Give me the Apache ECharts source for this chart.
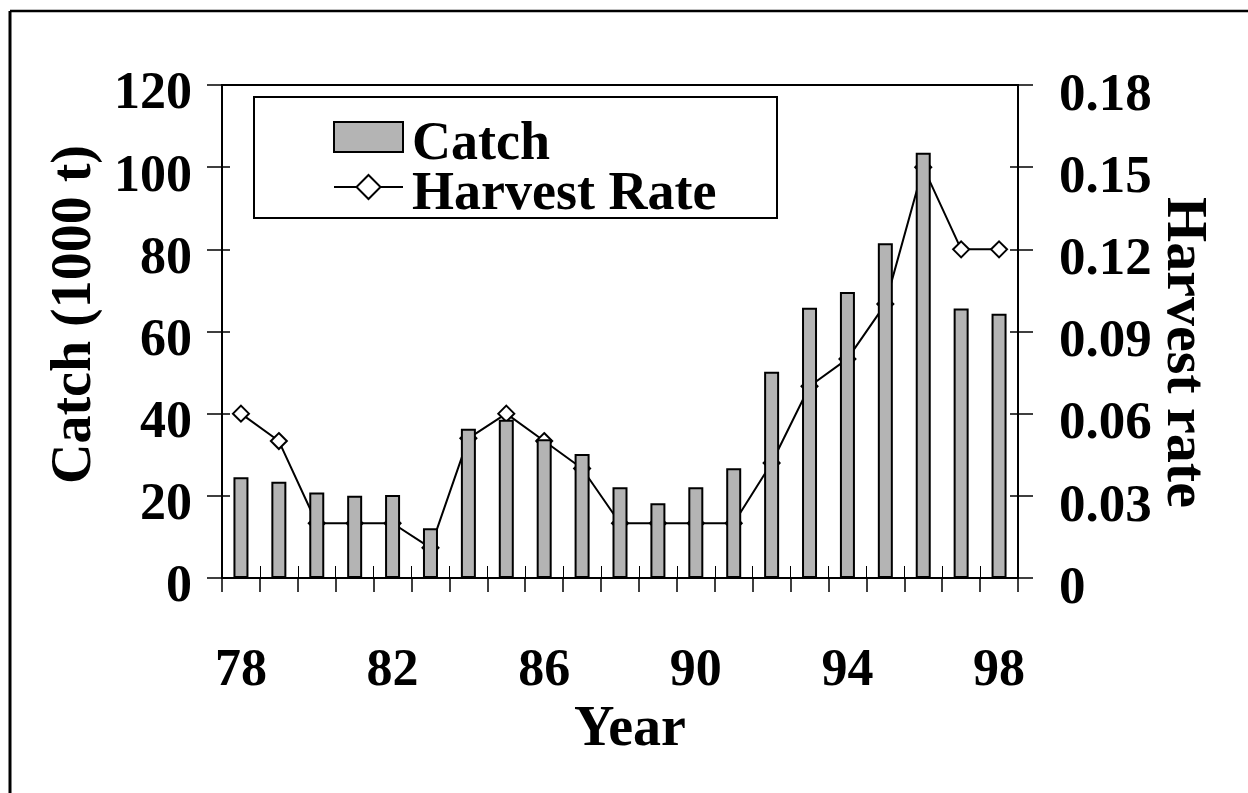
<!DOCTYPE html>
<html>
<head>
<meta charset="utf-8">
<script src="https://cdn.jsdelivr.net/npm/echarts@6/dist/echarts.min.js"></script>
<style>
  html, body { margin: 0; padding: 0; background: #fff; }
  #chart { width: 1248px; height: 793px; }
</style>
</head>
<body>
<div id="chart"></div>
<script>
// ---- data ----
const years = ['78','79','80','81','82','83','84','85','86','87','88','89','90','91','92','93','94','95','96','97','98'];
const catchValues = [24.5, 23.4, 20.8, 20.0, 20.2, 12.1, 36.3, 38.5, 33.8, 30.2, 22.1, 18.2, 22.1, 26.7, 50.2, 65.8, 69.6, 81.5, 103.5, 65.6, 64.3];
const harvestRate = [0.06, 0.05, 0.02, 0.02, 0.02, 0.011, 0.051, 0.06, 0.05, 0.04, 0.02, 0.02, 0.02, 0.02, 0.042, 0.07, 0.08, 0.10, 0.15, 0.12, 0.12];
const leftTicks = [0, 20, 40, 60, 80, 100, 120];
const rightTickLabels = ['0', '0.03', '0.06', '0.09', '0.12', '0.15', '0.18'];
const seriesNames = ['Catch', 'Harvest Rate'];
const axisNames = { x: 'Year', left: 'Catch (1000 t)', right: 'Harvest rate' };

const FONT = 'Liberation Serif, Times New Roman, serif';
const txt = { fontFamily: FONT, fontWeight: 'bold', fontSize: 52, color: '#000' };
const nameTxt = { fontFamily: FONT, fontWeight: 'bold', fontSize: 56, color: '#000' };
const lineBlack = { color: '#000', width: 2 };

const leftMin = leftTicks[0], leftMax = leftTicks[leftTicks.length - 1], leftStep = leftTicks[1] - leftTicks[0];
const rightMax = parseFloat(rightTickLabels[rightTickLabels.length - 1]);
const rightStep = parseFloat(rightTickLabels[1]);

const chart = echarts.init(document.getElementById('chart'), null, { renderer: 'canvas' });
chart.setOption({
  backgroundColor: '#ffffff',
  animation: false,
  grid: {
    left: 222, right: 230, top: 85, bottom: 215,
    show: true, borderColor: '#000', borderWidth: 2, backgroundColor: 'transparent'
  },
  legend: {
    orient: 'vertical',
    left: 333, top: 102,
    padding: 0,
    itemGap: -20,
    itemWidth: 69, itemHeight: 30,
    data: [{ name: seriesNames[0], icon: 'rect' }, { name: seriesNames[1] }],
    formatter: function (name) { return '{t|' + name + '}'; },
    textStyle: Object.assign({}, txt, {
      fontSize: 54,
      rich: { t: { fontFamily: FONT, fontWeight: 'bold', fontSize: 54, color: '#000', lineHeight: 36, padding: [16, 0, 0, 4] } }
    })
  },
  graphic: [
    { type: 'rect', shape: { x: 254, y: 97, width: 523, height: 121 },
      style: { fill: 'none', stroke: '#000', lineWidth: 2 }, z: 1 },
    { type: 'line', shape: { x1: 10, y1: 11, x2: 1248, y2: 11 }, style: { stroke: '#000', lineWidth: 2.5 } },
    { type: 'line', shape: { x1: 10, y1: 11, x2: 10, y2: 793 }, style: { stroke: '#000', lineWidth: 3 } }
  ],
  xAxis: [{
    type: 'category',
    data: years,
    boundaryGap: true,
    position: 'bottom',
    axisLine: { show: true, lineStyle: lineBlack },
    axisTick: { show: true, interval: 0, length: 14, lineStyle: { color: '#000', width: 1.5 } },
    axisLabel: Object.assign({}, txt, { interval: 3, margin: 68 }),
    splitLine: { show: false },
    name: axisNames.x,
    nameLocation: 'middle',
    nameGap: 125,
    nameTextStyle: Object.assign({}, nameTxt, { padding: [0, 0, 0, 20] })
  }, {
    type: 'category',
    data: years,
    position: 'bottom',
    axisLine: { show: false },
    axisTick: { show: true, inside: true, interval: 0, length: 12, lineStyle: { color: '#000', width: 1 } },
    axisLabel: { show: false },
    splitLine: { show: false }
  }],
  yAxis: [{
    type: 'value',
    position: 'left',
    min: leftMin, max: leftMax, interval: leftStep,
    axisLine: { show: true, lineStyle: lineBlack },
    axisTick: { show: true, length: 15, lineStyle: { color: '#000', width: 1.5 } },
    axisLabel: Object.assign({}, txt, { margin: 30, verticalAlign: 'top', lineHeight: 20 }),
    splitLine: { show: false },
    name: axisNames.left,
    nameLocation: 'middle',
    nameRotate: 90,
    nameGap: 113,
    nameTextStyle: Object.assign({}, nameTxt, { padding: [0, 0, 0, 34] })
  }, {
    type: 'value',
    position: 'right',
    min: 0, max: rightMax, interval: rightStep,
    axisLine: { show: true, lineStyle: lineBlack },
    axisTick: { show: true, length: 15, lineStyle: { color: '#000', width: 1.5 } },
    axisLabel: Object.assign({}, txt, {
      fontSize: 53, margin: 41, verticalAlign: 'top', lineHeight: 22,
      formatter: function (v) { return rightTickLabels[Math.round(v / rightStep)]; }
    }),
    splitLine: { show: false },
    name: axisNames.right,
    nameLocation: 'middle',
    nameRotate: -90,
    nameGap: 136,
    nameMoveOverlap: false,
    nameTextStyle: Object.assign({}, nameTxt, { fontSize: 58, padding: [0, 0, 0, 42] })
  }, {
    type: 'value',
    position: 'left',
    min: leftMin, max: leftMax, interval: leftStep,
    axisLine: { show: false },
    axisTick: { show: true, inside: true, length: 8, lineStyle: { color: '#000', width: 1.5 } },
    axisLabel: { show: false },
    splitLine: { show: false }
  }, {
    type: 'value',
    position: 'right',
    min: 0, max: rightMax, interval: rightStep,
    axisLine: { show: false },
    axisTick: { show: true, inside: true, length: 8, lineStyle: { color: '#000', width: 1.5 } },
    axisLabel: { show: false },
    splitLine: { show: false }
  }],
  series: [{
    name: seriesNames[1],
    type: 'line',
    xAxisIndex: 0,
    yAxisIndex: 1,
    data: harvestRate,
    z: 2,
    symbol: 'diamond',
    symbolSize: 16,
    showAllSymbol: true,
    lineStyle: { color: '#000', width: 2 },
    itemStyle: { color: '#fff', borderColor: '#000', borderWidth: 2 }
  }, {
    name: seriesNames[0],
    type: 'bar',
    xAxisIndex: 0,
    yAxisIndex: 0,
    data: catchValues,
    z: 3,
    barWidth: 15,
    itemStyle: { color: '#b4b4b4', borderColor: '#000', borderWidth: 2 }
  }]
});
</script>
</body>
</html>
